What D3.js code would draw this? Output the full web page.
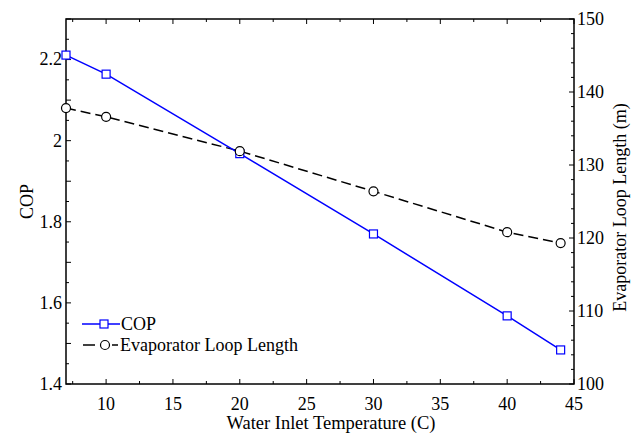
<!DOCTYPE html>
<html>
<head>
<meta charset="utf-8">
<script src="https://cdn.jsdelivr.net/npm/d3@7"></script>
<style>
  body { margin: 0; background: #fff; }
  text { font-family: "Liberation Serif", "Times New Roman", serif; }
</style>
</head>
<body>
<svg id="chart" width="633" height="433"></svg>
<script>
const temps = [7, 10, 20, 30, 40, 44];
const cop = [2.211, 2.164, 1.968, 1.770, 1.568, 1.484];
const loopLength = [137.8, 136.6, 131.9, 126.4, 120.8, 119.3];
const xTicks = [10, 15, 20, 25, 30, 35, 40, 45];
const yLeftTicks = [1.4, 1.6, 1.8, 2.0, 2.2];
const yRightTicks = [100, 110, 120, 130, 140, 150];
const seriesNames = ["COP", "Evaporator Loop Length"];

const svg = d3.select("#chart");
const L = 66, R = 574, T = 19, B = 384;

const x = d3.scaleLinear().domain([7, 45]).range([L, R]);
const yL = d3.scaleLinear().domain([1.4, 2.3]).range([B, T]);
const yR = d3.scaleLinear().domain([100, 150]).range([B, T]);

const fs = 18;

// frame
svg.append("rect").attr("x", L).attr("y", T).attr("width", R - L).attr("height", B - T)
  .attr("fill", "none").attr("stroke", "#000").attr("stroke-width", 1.5);

const g = svg.append("g");
function tick(x1, y1, x2, y2) {
  g.append("line").attr("x1", x1).attr("y1", y1).attr("x2", x2).attr("y2", y2)
    .attr("stroke", "#000").attr("stroke-width", 1);
}

// bottom/top ticks every 2.5
d3.range(7.5, 45.01, 2.5).forEach(v => {
  const major = Math.abs(v % 5) < 1e-6;
  const len = major ? 5 : 3;
  tick(x(v), B, x(v), B - len);
  tick(x(v), T, x(v), T + len);
});
// left ticks every 0.05
d3.range(1.4, 2.3001, 0.05).forEach(v => {
  const major = Math.abs(Math.round(v * 10) - v * 10) < 1e-6;
  const len = major ? 5 : 3;
  tick(L, yL(v), L + len, yL(v));
});
// right ticks every 2
d3.range(100, 150.01, 2).forEach(v => {
  const len = v % 10 === 0 ? 5 : 3;
  tick(R, yR(v), R - len, yR(v));
});

// tick labels
xTicks.forEach(v => {
  svg.append("text").attr("x", x(v)).attr("y", 410).attr("text-anchor", "middle")
    .attr("font-size", fs).text(v);
});
yLeftTicks.forEach(v => {
  svg.append("text").attr("x", 62).attr("y", yL(v)).attr("dy", "0.33em")
    .attr("text-anchor", "end").attr("font-size", fs).text(d3.format("~g")(v));
});
yRightTicks.forEach(v => {
  svg.append("text").attr("x", 577).attr("y", yR(v)).attr("dy", "0.33em")
    .attr("text-anchor", "start").attr("font-size", fs).text(v);
});

// axis titles
svg.append("text").attr("x", 331).attr("y", 429).attr("text-anchor", "middle")
  .attr("font-size", 18.5).text("Water Inlet Temperature (C)");
svg.append("text").attr("transform", `translate(33,${(T + B) / 2}) rotate(-90)`)
  .attr("text-anchor", "middle").attr("font-size", fs).text("COP");
svg.append("text").attr("transform", `translate(626,${(T + B) / 2 + 6}) rotate(-90)`)
  .attr("text-anchor", "middle").attr("font-size", fs).text("Evaporator Loop Length (m)");

// lines
const copData = temps.map((t, i) => [t, cop[i]]);
const lenData = temps.map((t, i) => [t, loopLength[i]]);

svg.append("path").datum(lenData)
  .attr("d", d3.line().x(d => x(d[0])).y(d => yR(d[1])))
  .attr("fill", "none").attr("stroke", "#000").attr("stroke-width", 1.5)
  .attr("stroke-dasharray", "10,5");
svg.append("path").datum(copData)
  .attr("d", d3.line().x(d => x(d[0])).y(d => yL(d[1])))
  .attr("fill", "none").attr("stroke", "#0000ff").attr("stroke-width", 1.5);

const sq = 8;
svg.selectAll(".sq").data(copData).enter().append("rect")
  .attr("x", d => x(d[0]) - sq / 2).attr("y", d => yL(d[1]) - sq / 2)
  .attr("width", sq).attr("height", sq)
  .attr("fill", "#fff").attr("stroke", "#0000ff").attr("stroke-width", 1.2);
svg.selectAll(".ci").data(lenData).enter().append("circle")
  .attr("cx", d => x(d[0])).attr("cy", d => yR(d[1])).attr("r", 4.5)
  .attr("fill", "#fff").attr("stroke", "#000").attr("stroke-width", 1.2);

// legend
const lg = svg.append("g");
lg.append("line").attr("x1", 82).attr("x2", 120).attr("y1", 324).attr("y2", 324)
  .attr("stroke", "#0000ff").attr("stroke-width", 1.5);
lg.append("rect").attr("x", 104 - sq / 2).attr("y", 324 - sq / 2).attr("width", sq).attr("height", sq)
  .attr("fill", "#fff").attr("stroke", "#0000ff").attr("stroke-width", 1.2);
lg.append("text").attr("x", 121).attr("y", 324).attr("dy", "0.33em").attr("font-size", fs).text(seriesNames[0]);

lg.append("line").attr("x1", 83).attr("x2", 95).attr("y1", 345).attr("y2", 345)
  .attr("stroke", "#000").attr("stroke-width", 1.5);
lg.append("line").attr("x1", 112).attr("x2", 118).attr("y1", 345).attr("y2", 345)
  .attr("stroke", "#000").attr("stroke-width", 1.5);
lg.append("circle").attr("cx", 105).attr("cy", 345).attr("r", 4.5)
  .attr("fill", "#fff").attr("stroke", "#000").attr("stroke-width", 1.2);
lg.append("text").attr("x", 120).attr("y", 345).attr("dy", "0.33em").attr("font-size", fs).text(seriesNames[1]);
</script>
</body>
</html>
